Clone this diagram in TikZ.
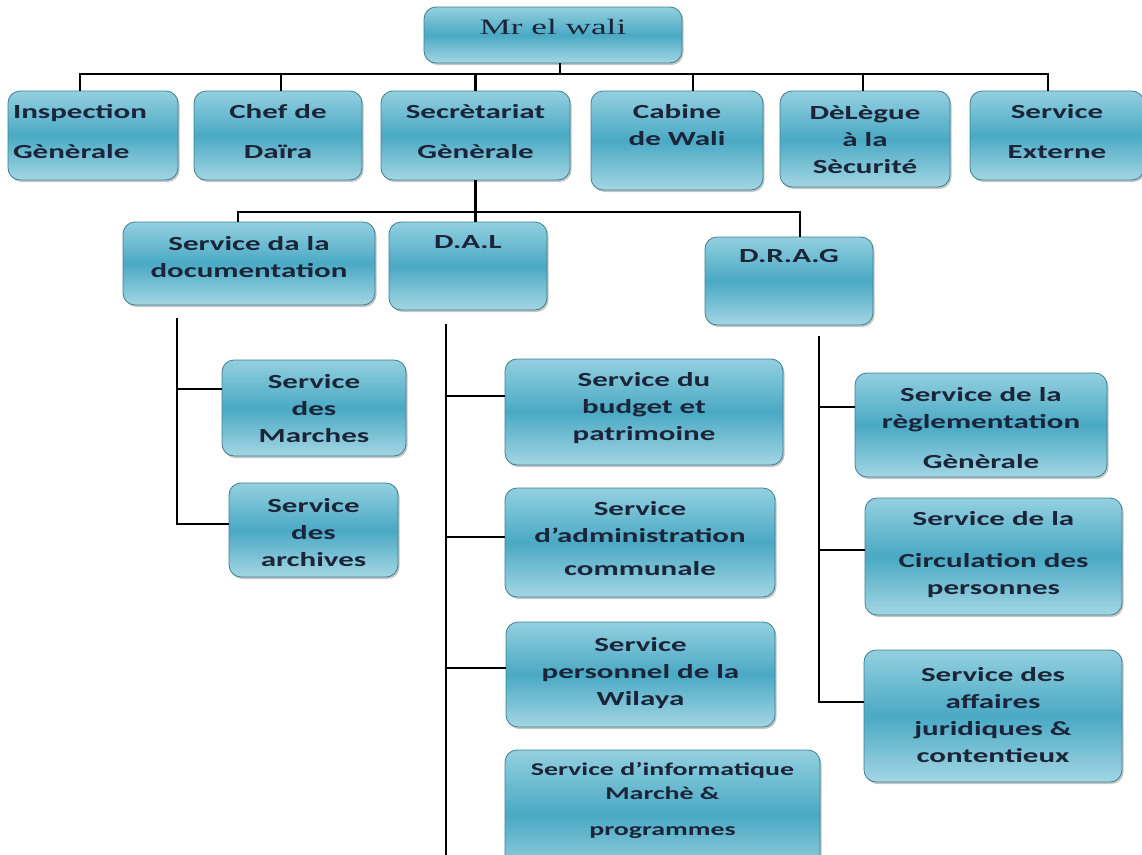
\documentclass[tikz,border=0pt]{standalone}
\usepackage{fontspec}
\usepackage{xcolor}
\usepackage{tikz}
\usetikzlibrary{positioning, shadows}
\newfontfamily\boxfont{Carlito}[FakeStretch=1.55]
\newfontfamily\walifont{Liberation Serif}[FakeStretch=1.6]
\definecolor{boxtop}{HTML}{93D0DF}
\definecolor{boxmid}{HTML}{4AA9C4}
\definecolor{boxbot}{HTML}{A3D6E3}
\definecolor{boxedge}{HTML}{3C7F91}
\definecolor{boxtext}{HTML}{1B2438}

\begin{document}
\begin{tikzpicture}[
  x=1pt, y=-1pt,
  box/.style={rectangle, rounded corners=12pt, draw=boxedge, line width=0.8pt,
              top color=boxtop, bottom color=boxbot, middle color=boxmid,
              drop shadow={shadow xshift=1.5pt, shadow yshift=-2pt, opacity=0.45},
              inner sep=0pt, text depth=6pt, align=center, text=boxtext,
              font=\boxfont\bfseries\fontsize{20}{27}\selectfont},
  line/.style={draw=black, line width=2.6pt},
]
\useasboundingbox (0,0) rectangle (1142,854);

% Top: the wali
\node[box, minimum width=258pt, minimum height=56pt, text height=14pt, text depth=16pt,
      font=\walifont\fontsize{22}{27}\selectfont] at (553,35) (wali) {Mr el wali};

% First row
\node[box, minimum width=170pt, minimum height=89pt, text height=14pt, text depth=49pt,
      text width=160pt, align=left] at (93,135.5) (insp) {Inspection\\[13pt]Gènèrale};
\node[box, minimum width=168pt, minimum height=89pt, text height=51pt] at (278,135.5)   (chef)    {Chef de\\[13pt]Daïra};
\node[box, minimum width=189pt, minimum height=89pt, text height=51pt] at (475.5,135.5) (secr)    {Secrètariat\\[13pt]Gènèrale};
\node[box, minimum width=172pt, minimum height=99pt, text height=15pt] at (677,140.5)   (cabine)  {Cabine\\de Wali};
\node[box, minimum width=170pt, minimum height=96pt, text height=74pt] at (865,139)     (delegue) {DèLègue\\à la\\Sècurité};
\node[box, minimum width=174pt, minimum height=89pt, text height=51pt] at (1057,135.5)  (externe) {Service\\[13pt]Externe};

% Second row, under the secretariat
\node[box, minimum width=252pt, minimum height=83pt, text height=33pt] at (249,263.5) (doc) {Service da la\\documentation};
\node[box, minimum width=158pt, minimum height=88pt, text height=14pt, text depth=50pt] at (468,266) (dal)  {D.A.L};
\node[box, minimum width=168pt, minimum height=88pt, text height=14pt, text depth=52pt] at (789,281) (drag) {D.R.A.G};

% Left column
\node[box, minimum width=184pt, minimum height=96pt, text height=74pt] at (314,408)   (marches)  {Service\\des\\Marches};
\node[box, minimum width=169pt, minimum height=94pt, text height=78pt] at (313.5,530) (archives) {Service\\des\\archives};

% Middle column
\node[box, minimum width=278pt, minimum height=106pt, text height=62pt] at (644,412)     (budget) {Service du\\budget et\\patrimoine};
\node[box, minimum width=270pt, minimum height=109pt, text height=71pt] at (640,542.5)   (admin)  {Service\\d’administration\\[6pt]communale};
\node[box, minimum width=269pt, minimum height=105pt, text height=67pt] at (640.5,674.5) (perso)  {Service\\personnel de la\\Wilaya};
\node[box, minimum width=315pt, minimum height=130pt, text height=46pt,
      font=\boxfont\bfseries\fontsize{18}{24}\selectfont] at (662.5,815) (info) {Service d’informatique\\Marchè \&\\[12pt]programmes};

% Right column
\node[box, minimum width=252pt, minimum height=104pt, text height=92pt] at (981,425)     (regl) {Service de la\\règlementation\\[13pt]Gènèrale};
\node[box, minimum width=257pt, minimum height=117pt, text height=81pt] at (993.5,556.5) (circ) {Service de la\\[15pt]Circulation des\\personnes};
\node[box, minimum width=258pt, minimum height=132pt, text height=98pt] at (993,716)     (juri) {Service des\\affaires\\juridiques \&\\contentieux};

% Bus lines
\coordinate (busA) at (0,74);
\coordinate (busB) at (0,212);

\draw[line] ([xshift=-13pt]insp.north) -- ([xshift=-13pt]insp.north |- busA)
            -- ([xshift=-9pt]externe.north |- busA) -- ([xshift=-9pt]externe.north);
\draw[line] ([xshift=7pt]wali.south) -- ([xshift=7pt]wali.south |- busA);
\foreach \n/\dx in {chef/3, secr/0, cabine/16, delegue/-2}
  \draw[line] ([xshift=\dx pt]\n.north) -- ([xshift=\dx pt]\n.north |- busA);

% Secretariat down to second row
\draw[line] (secr.south) -- (secr.south |- dal.north);
\draw[line] ([xshift=-11pt]doc.north) -- ([xshift=-11pt]doc.north |- busB) -| ([xshift=11pt]drag.north);

% Left spine
\coordinate (docS) at ([xshift=-72pt, yshift=-13pt]doc.south);
\draw[line] (docS) |- ([yshift=6pt]archives.west);
\draw[line] ([yshift=19pt]marches.west) -- ++(-45,0);

% Middle spine
\coordinate (dalS) at (446,324);
\coordinate (dalE) at (446,860);
\draw[line] (dalS) -- (dalE);
\draw[line] ([yshift=16pt]budget.west) -- ++(-59,0);
\draw[line] ([yshift=5.5pt]admin.west) -- ++(-59,0);
\draw[line] ([yshift=6.5pt]perso.west) -- ++(-60,0);

% Right spine
\coordinate (dragS) at (819,336);
\draw[line] (dragS) |- ([yshift=14pt]juri.west);
\draw[line] ([yshift=18pt]regl.west) -- ++(-36,0);
\draw[line] ([yshift=6.5pt]circ.west) -- ++(-46,0);
\end{tikzpicture}
\end{document}
